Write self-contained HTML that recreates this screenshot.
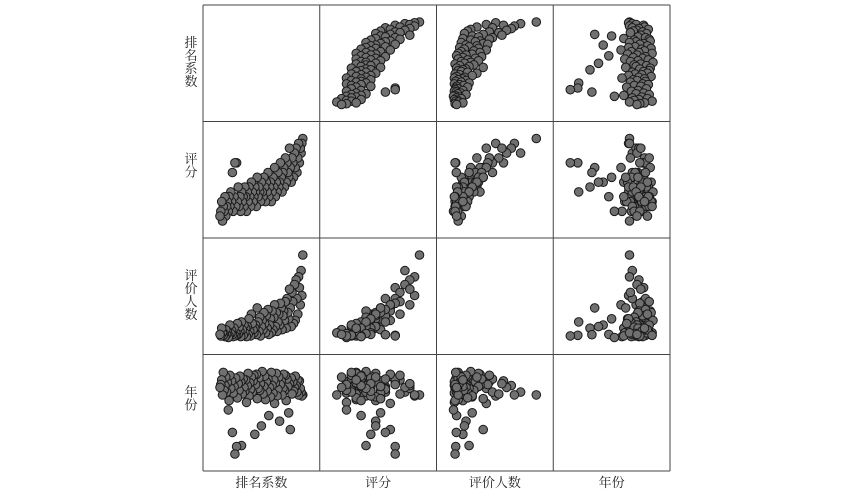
<!DOCTYPE html>
<html><head><meta charset="utf-8"><style>
html,body{margin:0;padding:0;background:#fff;}
svg{display:block;}
text{font-family:"Liberation Serif","Noto Serif CJK SC",serif;font-size:13px;fill:#222;}
</style></head><body>
<svg id="chart" width="850" height="500" viewBox="0 0 850 500" xmlns="http://www.w3.org/2000/svg"></svg>
<script>
const varNames = ["排名系数","评分","评价人数","年份"];
const rankVals = [100,99,98,97,96,95,94,93,92,91,90,89,88,87,86,85,84,83,82,81,80,79,78,77,76,75,74,73,72,71,70,69,68,67,66,65,64,63,62,61,60,59,58,57,56,55,54,53,52,51,50,49,48,47,46,45,44,43,42,41,40,39,38,37,36,35,34,33,32,31,30,29,28,27,26,25,24,23,22,21,20,19,18,17,16,15,14,13,12,11,10,9,8,7,6,5,4,3,2,1,0];
const scoreVals = [9.7,9.6,9.4,9.5,9.2,9.6,9.3,9.0,9.5,9.1,
9.4,8.9,9.2,9.3,8.8,9.1,9.5,8.9,9.0,9.2,
8.8,9.3,8.7,9.1,9.0,8.6,8.9,9.2,8.8,8.7,
9.0,8.6,8.8,8.5,9.1,8.7,8.9,8.6,8.4,8.8,
8.7,8.5,9.0,8.6,8.8,8.4,8.7,8.9,8.5,8.6,
8.8,8.4,8.6,8.7,8.5,8.9,8.3,8.6,8.7,8.5,
8.4,8.6,8.8,8.3,8.5,8.7,8.4,8.6,8.2,8.5,
8.7,8.3,8.5,8.4,8.6,8.2,8.5,8.3,8.7,8.4,
9.2,8.3,9.2,8.5,8.2,9.0,8.4,8.6,8.3,8.5,
8.2,8.4,8.3,8.1,8.5,8.2,8.3,8.0,8.4,8.2,8.1];
const reviewVals = [280,150,230,120,175,210,90,140,200,70,
185,60,130,160,50,110,170,75,95,140,
45,130,70,100,85,40,110,125,55,90,
65,35,95,50,120,80,40,100,30,75,
55,25,105,45,85,30,60,95,40,70,
50,20,80,35,65,110,25,55,45,30,
40,60,90,20,35,75,25,50,18,45,
30,55,22,40,65,18,35,48,25,60,
22,30,20,45,18,24,38,28,55,20,
15,35,25,40,18,28,22,30,45,20,25];
const yearVals = [1994,1993,1997,2001,2009,1994,2010,1997,2004,2014,2002,1998,2008,1995,2012,1957,2006,1975,2003,2011,1988,2015,1999,2016,2001,1994,2009,2005,1966,2013,2000,1993,2017,2007,1985,2010,1996,2004,2018,1992,2002,1972,2011,1998,2008,1989,2014,2003,1995,2019,1961,2006,1999,2012,2001,1990,2016,2005,1952,2015,2009,1997,2013,2000,2007,1993,2017,2004,1986,2010,1998,2002,2011,1995,1940,2008,2014,1999,2006,1991,1939,2012,1931,2003,1996,1954,2009,2001,2015,1988,1978,2007,1997,2013,2004,1999,2018,1994,2010,2005,2002];
const series = [rankVals, scoreVals, reviewVals, yearVals];

const svg = document.getElementById('chart');
const NS = 'http://www.w3.org/2000/svg';
const X0 = 203, Y0 = 5, W = 467, H = 466, N = 4;
const cw = W / N, ch = H / N, pad = 17;
function ext(a){ return [Math.min(...a), Math.max(...a)]; }
function xScale(v, col){ const [lo,hi] = ext(series[col]); return X0 + col*cw + pad + (v-lo)/(hi-lo)*(cw-2*pad); }
function yScale(v, row){ const [lo,hi] = ext(series[row]); return Y0 + row*ch + ch - pad - (v-lo)/(hi-lo)*(ch-2*pad); }

for (let r = 0; r < N; r++) {
  for (let c = 0; c < N; c++) {
    const g = document.createElementNS(NS, 'g');
    
    
    svg.appendChild(g);
    if (r === c) continue;
    for (let i = 0; i < series[0].length; i++) {
      const p = document.createElementNS(NS, 'circle');
      p.setAttribute('cx', xScale(series[c][i], c).toFixed(1));
      p.setAttribute('cy', yScale(series[r][i], r).toFixed(1));
      p.setAttribute('r', 4.3);
      p.setAttribute('fill', '#707070');
      p.setAttribute('stroke', '#1a1a1a');
      p.setAttribute('stroke-width', 1);
      
      
      g.appendChild(p);
    }
  }
}
for (let k = 0; k <= N; k++) {
  const v = document.createElementNS(NS, 'line');
  v.setAttribute('x1', X0 + k*cw); v.setAttribute('x2', X0 + k*cw);
  v.setAttribute('y1', Y0); v.setAttribute('y2', Y0 + H);
  v.setAttribute('stroke', '#444'); v.setAttribute('stroke-width', 1);
  
  
  svg.appendChild(v);
  const h = document.createElementNS(NS, 'line');
  h.setAttribute('y1', Y0 + k*ch); h.setAttribute('y2', Y0 + k*ch);
  h.setAttribute('x1', X0); h.setAttribute('x2', X0 + W);
  h.setAttribute('stroke', '#444'); h.setAttribute('stroke-width', 1);
  
  
  svg.appendChild(h);
}
for (let k = 0; k < N; k++) {
  const t = document.createElementNS(NS, 'text');
  t.setAttribute('x', X0 + k*cw + cw/2); t.setAttribute('y', 487);
  t.setAttribute('text-anchor', 'middle');
  t.textContent = varNames[k];
  
  
  svg.appendChild(t);
  const chars = varNames[k].split('');
  const yl = document.createElementNS(NS, 'text');
  yl.setAttribute('text-anchor', 'middle');
  
  
  const startY = Y0 + k*ch + 42;
  chars.forEach((chr, j) => {
    const ts = document.createElementNS(NS, 'tspan');
    ts.setAttribute('x', 191); ts.setAttribute('y', startY + j*13);
    ts.textContent = chr;
    yl.appendChild(ts);
  });
  svg.appendChild(yl);
}
</script>
</body></html>
